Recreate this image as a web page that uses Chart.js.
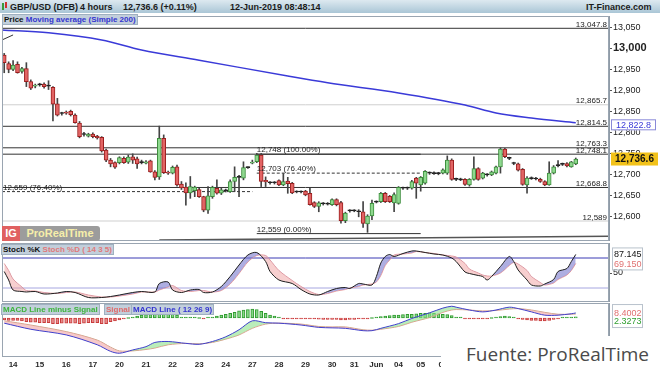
<!DOCTYPE html>
<html><head><meta charset="utf-8">
<script src="https://cdn.jsdelivr.net/npm/chart.js@4.4.1/dist/chart.umd.min.js"></script>
<style>
html,body{margin:0;padding:0;background:#fff;}
body{width:660px;height:373px;position:relative;overflow:hidden;font-family:Arial,"Liberation Sans",sans-serif;}
.abs{position:absolute;}
canvas{position:absolute;left:0;}
#hdr{left:0;top:0;width:660px;height:13px;background:linear-gradient(#dde9f0,#aac6d6);}
.ht{position:absolute;top:2px;font:bold 9px Arial,"Liberation Sans",sans-serif;color:#1b1b1b;white-space:nowrap;}
.lg{position:absolute;font:bold 8px Arial,"Liberation Sans",sans-serif;white-space:nowrap;background:#c2cfdb;border:1px solid #9fb0c0;height:9px;line-height:9px;padding:0 1px;}
#fuente{left:441px;top:336px;width:219px;height:37px;background:#fff;}
#fuente span{position:absolute;left:25px;top:5px;font:19px "Open Sans",sans-serif;color:#4a4a4a;white-space:nowrap;}
</style></head>
<body>
<div id="hdr" class="abs"></div>
<div class="abs" style="left:2px;top:3px;width:2px;height:7px;background:#3a9a3a"></div>
<div class="abs" style="left:5px;top:2px;width:2px;height:6px;background:#d03030"></div>
<span class="ht" style="left:10px">GBP/USD (DFB)</span>
<span class="ht" style="left:80px">4 hours</span>
<span class="ht" style="left:123px">12,736.6 (+0.11%)</span>
<span class="ht" style="left:230px">12-Jun-2019 08:48:14</span>
<span class="ht" style="left:586px">IT-Finance.com</span>

<canvas id="cPrice" width="660" height="225" style="top:16px"></canvas>
<canvas id="cStoch" width="660" height="59" style="top:243px"></canvas>
<canvas id="cMacd" width="660" height="70" style="top:303px"></canvas>

<div class="lg" style="left:2px;top:14px"><span style="color:#111">Price</span> <span style="color:#3434d0">Moving average (Simple 200)</span></div>
<div class="lg" style="left:1px;top:244px"><span style="color:#111">Stoch %K</span> <span style="color:#e07a7a">Stoch %D ( 14 3 5)</span></div>
<div class="lg" style="left:1px;top:304px;color:#3cb43c">MACD Line minus Signal</div>
<div class="lg" style="left:104px;top:304px;color:#e06a6a">Signal</div>
<div class="lg" style="left:131px;top:304px;color:#3434d0">MACD Line ( 12 26 9)</div>

<div class="abs" style="left:2px;top:226px;width:18px;height:15px;background:#e06060;color:#fff;font:bold 11px Arial,'Liberation Sans';line-height:15px;text-align:center">IG</div>
<div class="abs" style="left:20px;top:226px;width:80px;height:15px;background:#9c9c9c;border-radius:0 3px 3px 0;color:#f6eeaa;font:bold 11px Arial,'Liberation Sans';line-height:15px;text-align:center">ProRealTime</div>

<div id="fuente" class="abs"><span>Fuente: ProRealTime</span></div>

<script>
// ================= DATA =================
const dayLabels   = ['14','15','16','17','20','21','22','23','24','27','28','29','30','31','Jun','04','05','06'];
const dayStartIdx = [2,8,14,20,26,32,38,44,50,56,62,68,74,79,84,89,94,99];
const priceTicks  = [12600,12650,12700,12750,12800,12850,12900,12950,13000,13050];
const stochTicks  = [50];

const opens = [12984,12964,12950,12962,12945,12952,12921,12910,12913,12915,
 12911,12907,12868,12845,12848,12850,12841,12822,12795,12791,
 12796,12791,12788,12758,12734,12728,12728,12738,12729,12742,
 12737,12728,12727,12732,12706,12694,12786,12705,12703,12718,
 12677,12670,12656,12661,12664,12647,12615,12647,12667,12655,
 12661,12659,12683,12693,12691,12716,12727,12730,12746,12686,
 12680,12681,12685,12675,12684,12679,12659,12658,12660,12655,
 12633,12624,12630,12630,12628,12640,12633,12590,12613,12614,
 12612,12611,12582,12601,12634,12635,12655,12648,12632,12631,
 12667,12667,12667,12691,12675,12679,12703,12703,12702,12703,
 12703,12734,12688,12688,12688,12675,12688,12714,12691,12699,
 12699,12703,12718,12760,12739,12727,12725,12712,12675,12690,
 12690,12688,12683,12675,12703,12721,12724,12726,12718,12725];
const highs = [12988,12968,12971,12968,12955,12966,12925,12915,12917,12918,
 12923,12909,12881,12848,12851,12853,12844,12826,12800,12798,
 12799,12793,12790,12760,12738,12730,12742,12742,12746,12749,
 12741,12734,12733,12734,12709,12815,12794,12708,12720,12722,
 12683,12680,12695,12672,12667,12648,12671,12672,12687,12668,
 12665,12687,12718,12698,12730,12718,12734,12750,12750,12694,
 12683,12683,12687,12702,12693,12681,12661,12661,12662,12667,
 12635,12635,12633,12633,12642,12642,12636,12610,12616,12616,
 12616,12635,12604,12639,12637,12657,12657,12650,12656,12671,
 12670,12670,12686,12693,12695,12709,12706,12706,12705,12713,
 12744,12737,12691,12691,12690,12690,12742,12716,12705,12702,
 12708,12720,12763,12762,12741,12729,12727,12714,12695,12694,
 12693,12691,12685,12730,12721,12733,12727,12728,12731,12739];
const lows = [12942,12942,12947,12941,12941,12909,12902,12906,12910,12905,
 12902,12827,12839,12841,12843,12839,12822,12787,12791,12789,
 12787,12784,12753,12730,12718,12714,12725,12726,12726,12726,
 12714,12725,12725,12705,12687,12688,12702,12700,12701,12672,
 12664,12627,12643,12647,12645,12611,12607,12643,12653,12652,
 12658,12657,12659,12647,12687,12714,12725,12728,12671,12671,
 12677,12677,12673,12673,12655,12654,12656,12656,12649,12627,
 12621,12611,12627,12627,12626,12625,12584,12585,12610,12611,
 12599,12574,12562,12592,12632,12633,12633,12633,12611,12629,
 12664,12664,12665,12643,12660,12677,12700,12700,12699,12701,
 12700,12686,12685,12685,12674,12672,12686,12686,12689,12696,
 12697,12701,12703,12740,12735,12723,12708,12674,12655,12688,
 12687,12681,12673,12674,12701,12718,12721,12718,12717,12723];
const closes = [12966,12950,12960,12942,12952,12921,12905,12912,12914,12909,
 12910,12867,12841,12845,12846,12842,12823,12790,12796,12796,
 12790,12787,12756,12734,12725,12717,12740,12728,12741,12734,
 12725,12728,12730,12706,12693,12786,12704,12703,12717,12675,
 12668,12656,12671,12670,12647,12615,12649,12669,12655,12663,
 12661,12683,12693,12693,12716,12716,12729,12746,12683,12682,
 12681,12680,12675,12683,12678,12656,12658,12659,12651,12628,
 12624,12632,12630,12629,12640,12628,12590,12608,12614,12613,
 12611,12583,12601,12631,12635,12655,12635,12635,12652,12669,
 12668,12667,12683,12679,12693,12707,12704,12702,12703,12711,
 12734,12688,12688,12687,12676,12688,12714,12688,12703,12700,
 12706,12718,12760,12742,12738,12726,12710,12676,12691,12691,
 12689,12683,12675,12703,12718,12722,12725,12720,12730,12736.6];

// 200-period simple moving average, read at a few places along the line
const maIdx = [-0.5, 10, 22, 31, 44, 64, 73, 89, 104, 111, 119, 129];
const maVal = [13044, 13037, 13020, 12996, 12972, 12934, 12918, 12894, 12865, 12846, 12834, 12822.8];

// horizontal support/resistance levels
const levels      = [13047.8, 12865.7, 12814.5, 12763.3, 12748.1, 12668.8, 12589];
const levelLabels = ['13,047.8','12,865.7','12,814.5','12,763.3','12,748.1','12,668.8','12,589'];
const levelMajor  = [true, false, true, true, true, true, false];

// Fibonacci objects
const fibVal    = [12748, 12703, 12659, 12559];
const fibLabels = ['12,748 (100.00%)','12,703 (76.40%)','12,659 (76.40%)','12,559 (0.00%)'];
const fibFrom   = [57, 57, -0.5, 57];
const fibTo     = [94, 94, 56, 94];

// drawn trend lines
const trendAIdx = [-0.5, 2];   const trendAVal = [13020, 13032];
const trendBIdx = [35, 136.5]; const trendBVal = [12544, 12553];

// Stochastic (14 3 5)
const stochIdx = [0,1,2,4,5,7,9,12,14,16,19,22,24,26,29,31,34,35,37,38,40,42,44,45,47,49,51,53,55,57,59,60,62,65,67,69,71,73,75,77,78,80,81,83,84,85,86,87,88,90,92,93,95,97,99,101,102,104,105,107,108,109,110,112,114,115,116,118,119,121,122,124,125,127,128,129];
const stochK = [53,36,16,13,12,13,8,10,13,11,1,1,3,6,11,13,12,29,32,16,11,16,17,11,12,23,43,66,86,91,73,53,36,29,17,8,6,13,19,21,19,29,28,26,43,70,83,87,83,89,94,94,91,88,86,80,73,52,49,45,43,36,43,63,83,73,56,36,26,24,28,37,53,59,73,87.145];
const stochD = [69,55,38,22,15,14,11,9,11,12,6,2,2,4,8,12,12,16,22,25,15,13,15,15,12,15,28,49,72,85,85,76,55,35,23,13,7,9,14,17,20,23,26,28,32,45,65,76,86,88,90,93,91,89,86,84,82,69,58,50,46,44,44,50,65,71,68,55,43,31,26,30,37,46,55,69.15];
const stochUpper = 80, stochLower = 20;

// MACD (12 26 9)
const macdIdx    = [0,6,14,21,24,26,29,32,34,37,41,44,47,50,53,56,59,62,67,71,74,77,81,83,85,89,92,96,99,101,102,105,108,111,114,116,119,122,125,128,129];
const macdLine   = [-11,-24,-36,-57,-71,-75,-68,-61,-52,-50,-54,-56,-50,-40,-25,-6,-10,-11,-15,-20,-21,-22,-27,-27,-22,-12,-1,11,21,25,23,17,13,17,23,20,13,6,6,9,10.73];
const macdSignal = [-6,-15,-29,-47,-62,-70,-70,-67,-64,-57,-54,-55,-52,-45,-36,-22,-13,-11,-13,-18,-19,-19,-25,-26,-24,-18,-9,1,12,17,18,17,15,16,19,20,17,12,8,8,8.4002];
const macdHist = [-4,-5,-5,-5,-6,-8,-9,-9,-10,-10,
 -10,-12,-12,-11,-11,-11,-11,-12,-11,-10,
 -10,-10,-12,-12,-8,-6,-4,-2,0,2,
 4,6,7,7,8,10,10,9,8,6,
 2,1,1,1,0,-1.5,1,2,4,6,
 8,10,12,15,17,18,19,18,14,10,
 6,4,1,-1,-1,-1.5,-2,-2,-2,-2,
 -2,-2.5,-3,-3,-3,-3,-4,-4,-3,-3,
 -2,-1,-1,0,2,3,4,5,6,6,
 7,8,8,9,10,10,11,10,9,8,
 7,5,1,0.5,-0.5,-1,-1,-1,-1,-1,
 0,1,3,4,3,1,-1,-3,-4,-5,
 -5,-6,-6,-5,-3,-1,0.5,1,1.5,2.3273];

// ================= CHARTS =================
const FONT = 'Arial, "Liberation Sans", sans-serif';
Chart.defaults.font.family = FONT;
Chart.defaults.animation = false;
Chart.defaults.events = [];
Chart.defaults.plugins.legend.display = false;
Chart.defaults.plugins.tooltip.enabled = false;

const X_MIN = -0.5, X_MAX = 136.5;
const pts = (xs, ys) => xs.map((x, k) => ({x, y: ys[k]}));
const seg = (a, b, v) => [{x: a, y: v}, {x: b, y: v}];

function xAxis(show) {
  return {
    type: 'linear', min: X_MIN, max: X_MAX, offset: false, display: show,
    grid: {display: false, drawTicks: false, offset: false}, border: {display: false},
    afterBuildTicks: s => { s.ticks = dayStartIdx.map(v => ({value: v})); },
    afterFit: s => { s.height = show ? 16 : 0; s.paddingLeft = 0; s.paddingRight = 0; },
    ticks: {autoSkip: false, maxRotation: 0, padding: 3, color: '#2a2a2a',
      font: {size: 8, weight: 'bold'}, callback: (v, i) => dayLabels[i]}
  };
}
function yAxis(min, max, tickVals, opts) {
  return Object.assign({
    type: 'linear', position: 'right', min, max, beginAtZero: false,
    afterFit: s => { s.width = 51; s.paddingTop = 0; s.paddingBottom = 0; },
    afterBuildTicks: s => { s.ticks = tickVals.map(v => ({value: v})); },
    grid: {drawOnChartArea: false, drawTicks: true, tickLength: 3, color: '#555'},
    border: {display: true, color: '#8f9ba7'},
    ticks: {padding: 1, color: '#222', font: {size: 9}, callback: v => v.toLocaleString('en-US')}
  }, opts || {});
}
const frame = {
  id: 'frame',
  afterDraw(chart) {
    const {ctx, chartArea: a} = chart;
    ctx.save(); ctx.strokeStyle = '#9aa5b1'; ctx.lineWidth = 1;
    ctx.strokeRect(a.left + 0.5, a.top + 0.5, a.width - 1, a.height - 1);
    ctx.restore();
  }
};
function box(ctx, x, yc, w, h, fill, stroke, text, color, font) {
  ctx.fillStyle = fill; ctx.fillRect(x, yc - h / 2, w, h);
  if (stroke) { ctx.strokeStyle = stroke; ctx.lineWidth = 1; ctx.strokeRect(x + 0.5, yc - h / 2 + 0.5, w - 1, h - 1); }
  ctx.fillStyle = color; ctx.font = font; ctx.textAlign = 'center'; ctx.textBaseline = 'middle';
  ctx.fillText(text, x + w / 2, yc + 0.5);
}

// ---------- price ----------
const candleDir = i => closes[i] > opens[i] + 1 ? 1 : (closes[i] < opens[i] - 1 ? -1 : 0);
const bodyFill   = i => ['#e26464', '#1e1e1e', '#8ed88e'][candleDir(i) + 1];
const bodyStroke = i => ['#9a1e1e', '#1e1e1e', '#3c8c3c'][candleDir(i) + 1];
const candleIdx = opens.map((_, i) => i);

const priceDatasets = [
  {type: 'bar', label: 'body', order: 0, grouped: false, barThickness: 4, minBarLength: 1,
   borderSkipped: false, borderWidth: 1,
   data: candleIdx.map(i => ({x: i, y: [opens[i], closes[i]]})),
   backgroundColor: c => bodyFill(c.dataIndex), borderColor: c => bodyStroke(c.dataIndex)},
  {type: 'bar', label: 'wick', order: 1, grouped: false, barThickness: 1, borderWidth: 0,
   data: candleIdx.map(i => ({x: i, y: [lows[i], highs[i]]})), backgroundColor: '#444'},
  {type: 'line', label: 'MA200', order: 2, data: pts(maIdx, maVal), borderColor: '#3a3ad8',
   borderWidth: 1.5, pointRadius: 0, cubicInterpolationMode: 'monotone'}
];
levels.forEach((v, k) => priceDatasets.push({type: 'line', order: 5, data: seg(X_MIN, X_MAX, v),
  borderColor: levelMajor[k] ? '#333' : '#cfcfcf', borderWidth: 1, pointRadius: 0}));
fibVal.forEach((v, k) => priceDatasets.push({type: 'line', order: 5, data: seg(fibFrom[k], fibTo[k], v),
  borderColor: '#333', borderWidth: 1, pointRadius: 0, borderDash: (k === 1 || k === 2) ? [3, 2] : []}));
priceDatasets.push({type: 'line', order: 5, data: pts(trendAIdx, trendAVal), borderColor: '#333', borderWidth: 1, pointRadius: 0});
priceDatasets.push({type: 'line', order: 5, data: pts(trendBIdx, trendBVal), borderColor: '#555', borderWidth: 1.5, pointRadius: 0});

const priceDecor = {
  id: 'priceDecor',
  afterDraw(chart) {
    const {ctx, chartArea: a, scales: {x, y}} = chart;
    ctx.save();
    ctx.font = '8px ' + FONT; ctx.fillStyle = '#222'; ctx.textBaseline = 'alphabetic';
    ctx.textAlign = 'right';
    levels.forEach((v, k) => ctx.fillText(levelLabels[k], a.right - 2, y.getPixelForValue(v) - 1.5));
    ctx.textAlign = 'left';
    fibVal.forEach((v, k) => ctx.fillText(fibLabels[k], Math.max(x.getPixelForValue(fibFrom[k]), a.left + 1), y.getPixelForValue(v) - 2));
    // last values on the price axis
    const last = closes.length - 1;
    box(ctx, a.right + 2, y.getPixelForValue(maVal[maVal.length - 1]) + 2, 45, 11, '#fff', '#8a8ad8',
        maVal[maVal.length - 1].toLocaleString('en-US', {minimumFractionDigits: 1}), '#3a3ad8', '9px ' + FONT);
    box(ctx, a.right + 2, y.getPixelForValue(closes[last]), 47, 13, '#f2c21a', null,
        closes[last].toLocaleString('en-US', {minimumFractionDigits: 1}), '#111', 'bold 10px ' + FONT);
    ctx.restore();
  }
};

new Chart(document.getElementById('cPrice'), {
  type: 'bar',
  data: {datasets: priceDatasets},
  options: {
    responsive: false, layout: {padding: {left: 2, right: 0, top: 0, bottom: 0}},
    scales: {
      x: xAxis(false),
      y: yAxis(12541.4, 13077.1, priceTicks, {
        ticks: {padding: 1, color: '#222', callback: v => v.toLocaleString('en-US'),
          font: c => (c.tick && c.tick.value === 13000) ? {size: 11, weight: 'bold'} : {size: 9}}})
    }
  },
  plugins: [frame, priceDecor]
});

// ---------- stochastic ----------
new Chart(document.getElementById('cStoch'), {
  type: 'line',
  data: {datasets: [
    {label: '%K', data: pts(stochIdx, stochK), borderColor: '#1e1e1e', borderWidth: 1, pointRadius: 0,
     tension: 0.3, fill: {target: 1, above: 'rgba(120,120,205,0.6)', below: 'rgba(240,160,160,0.5)'}},
    {label: '%D', data: pts(stochIdx, stochD), borderColor: 'rgba(232,150,150,0.9)', borderWidth: 1, pointRadius: 0, tension: 0.3},
    {data: seg(X_MIN, X_MAX, stochUpper), borderColor: '#3a3ab4', borderWidth: 1, pointRadius: 0},
    {data: seg(X_MIN, X_MAX, stochLower), borderColor: '#a6a6e0', borderWidth: 1, pointRadius: 0}
  ]},
  options: {
    responsive: false, layout: {padding: {left: 2, right: 0, top: 0, bottom: 0}},
    scales: {x: xAxis(false), y: yAxis(-8, 110, stochTicks)}
  },
  plugins: [frame, {
    id: 'stochDecor',
    afterDraw(chart) {
      const {ctx, chartArea: a, scales: {y}} = chart;
      const k = stochK[stochK.length - 1], d = stochD[stochD.length - 1];
      ctx.save();
      const y1 = y.getPixelForValue(k), y2 = y.getPixelForValue(d) + 1;
      ctx.fillStyle = '#fff'; ctx.fillRect(a.right + 3, y1 - 6, 30, y2 - y1 + 11);
      ctx.strokeStyle = '#b9c2cc'; ctx.strokeRect(a.right + 3.5, y1 - 6.5, 30, y2 - y1 + 12);
      ctx.font = '9px ' + FONT; ctx.textAlign = 'left'; ctx.textBaseline = 'middle';
      ctx.fillStyle = '#111'; ctx.fillText(k.toFixed(3), a.right + 5, y1);
      ctx.fillStyle = '#e07070'; ctx.fillText(d.toFixed(3), a.right + 5, y2);
      ctx.restore();
    }
  }]
});

// ---------- MACD ----------
new Chart(document.getElementById('cMacd'), {
  type: 'bar',
  data: {datasets: [
    {type: 'line', label: 'MACD', order: 0, data: pts(macdIdx, macdLine), borderColor: '#4040cc', borderWidth: 1,
     pointRadius: 0, tension: 0.3, fill: {target: 1, above: 'rgba(140,225,140,0.6)', below: 'rgba(240,165,165,0.6)'}},
    {type: 'line', label: 'Signal', order: 1, data: pts(macdIdx, macdSignal), borderColor: '#d9a08c', borderWidth: 1,
     pointRadius: 0, tension: 0.3},
    {type: 'bar', label: 'Hist', order: 2, barThickness: 3, minBarLength: 1, borderWidth: 1, borderSkipped: false,
     data: macdHist.map((v, i) => ({x: i, y: v})),
     backgroundColor: c => macdHist[c.dataIndex] >= 0 ? '#86d886' : '#e88a8a',
     borderColor: c => macdHist[c.dataIndex] >= 0 ? '#2f9a2f' : '#c83a3a'}
  ]},
  options: {
    responsive: false, layout: {padding: {left: 2, right: 0, top: 0, bottom: 0}},
    scales: {x: xAxis(true), y: yAxis(-83, 31.9, [], {ticks: {display: false}})}
  },
  plugins: [frame, {
    id: 'macdDecor',
    afterDraw(chart) {
      const {ctx, chartArea: a, scales: {y}} = chart;
      const s = macdSignal[macdSignal.length - 1], h = macdHist[macdHist.length - 1];
      const y1 = y.getPixelForValue(s) - 1, y2 = y1 + 8.5;
      ctx.save();
      ctx.fillStyle = '#fff'; ctx.fillRect(a.right + 3, y1 - 8, 30, 22);
      ctx.strokeStyle = '#b9c2cc'; ctx.strokeRect(a.right + 3.5, y1 - 8.5, 30, 23);
      ctx.font = '9px ' + FONT; ctx.textAlign = 'left'; ctx.textBaseline = 'middle';
      ctx.fillStyle = '#e07070'; ctx.fillText(s.toFixed(4), a.right + 5, y1);
      ctx.fillStyle = '#30a030'; ctx.fillText(h.toFixed(4), a.right + 5, y2);
      ctx.restore();
    }
  }]
});
</script>
</body></html>
